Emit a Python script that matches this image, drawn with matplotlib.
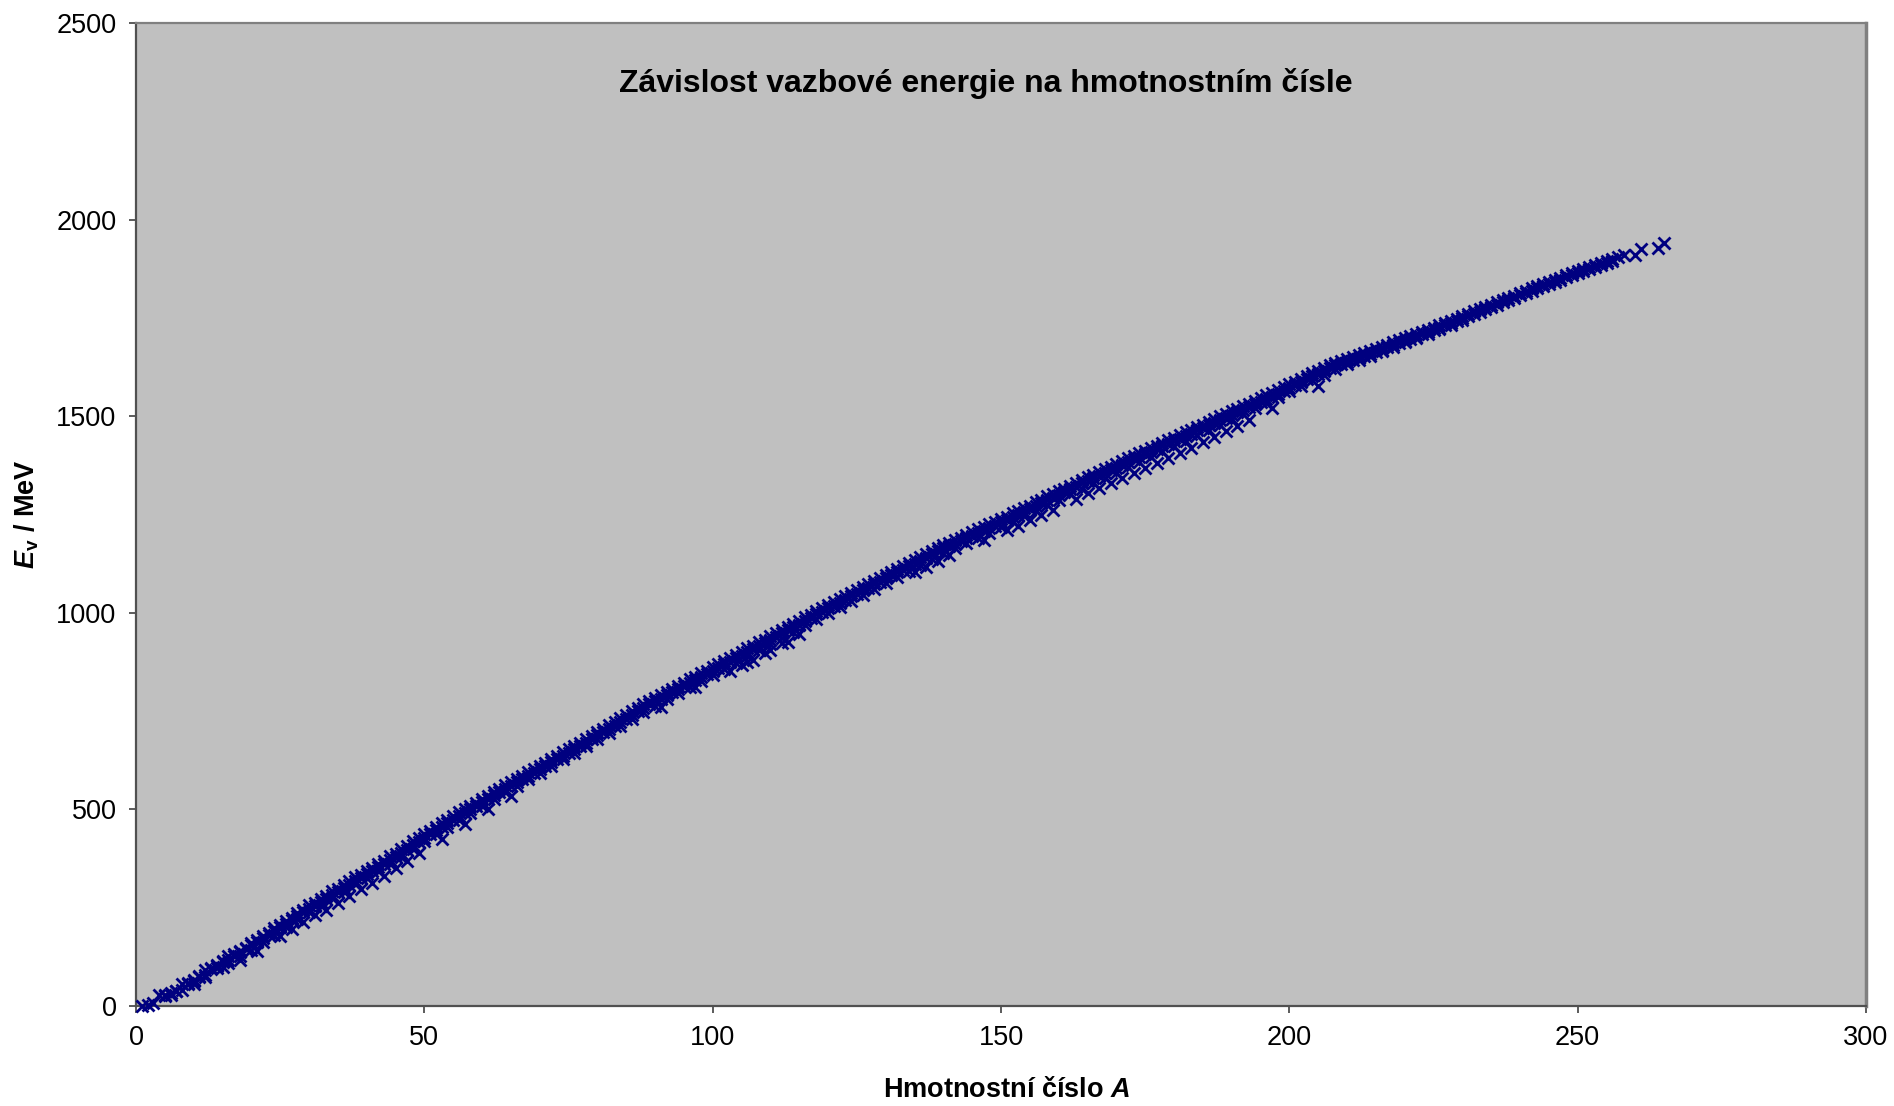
import matplotlib
matplotlib.use("Agg")
import matplotlib.pyplot as plt

# --- Fonts (Arial look-alike) ---
plt.rcParams['font.family'] = ['Liberation Sans', 'DejaVu Sans']
plt.rcParams['mathtext.fontset'] = 'custom'
plt.rcParams['mathtext.rm'] = 'Liberation Sans'
plt.rcParams['mathtext.it'] = 'Liberation Sans:italic'
plt.rcParams['mathtext.bf'] = 'Liberation Sans:bold'
plt.rcParams['mathtext.bfit'] = 'Liberation Sans:bold:italic'

# --- Data: binding energy E_v [MeV] vs mass number A ---
# most bound isobar for each A = 1..258
A_main = list(range(1, 259))
E_main = [
    0, 2.2, 8.5, 28.3, 27.4, 32.0, 39.2, 56.5, 58.2, 65.0,
    76.2, 92.2, 97.1, 105.3, 115.5, 127.6, 131.8, 139.8, 147.8, 160.6,
    167.4, 177.8, 186.6, 198.3, 205.6, 216.7, 225.0, 236.5, 245.0, 255.6,
    262.9, 271.8, 280.4, 291.8, 298.8, 308.7, 317.1, 327.3, 333.7, 343.8,
    351.6, 361.9, 369.8, 381.0, 387.8, 398.8, 407.1, 418.7, 426.8, 437.8,
    445.8, 456.3, 464.3, 474.0, 482.1, 492.3, 499.9, 509.9, 517.3, 526.8,
    534.7, 545.3, 552.1, 561.8, 569.2, 578.1, 585.2, 595.4, 601.9, 611.1,
    618.9, 628.7, 635.5, 645.7, 652.6, 662.1, 669.5, 679.0, 686.3, 696.9,
    704.4, 714.3, 721.7, 732.3, 739.3, 749.2, 757.9, 768.5, 775.5, 783.9,
    791.1, 799.7, 806.5, 814.7, 821.6, 830.8, 837.6, 846.2, 852.7, 861.9,
    868.7, 877.9, 884.2, 893.1, 899.9, 909.5, 915.3, 925.2, 931.7, 940.6,
    947.6, 957.0, 963.6, 972.6, 979.1, 988.7, 995.6, 1004.9, 1011.4, 1020.5,
    1026.7, 1035.5, 1041.5, 1050.7, 1057.3, 1066.4, 1072.7, 1080.7, 1087.7, 1096.9,
    1103.5, 1112.4, 1118.5, 1127.4, 1134.0, 1141.9, 1149.3, 1158.3, 1164.6, 1172.7,
    1177.9, 1185.1, 1191.1, 1199.1, 1204.8, 1212.4, 1217.3, 1225.4, 1230.3, 1239.3,
    1244.9, 1253.1, 1259.0, 1266.6, 1272.2, 1281.6, 1287.2, 1295.9, 1302.0, 1309.5,
    1314.9, 1323.5, 1329.6, 1338.0, 1344.3, 1351.6, 1358.0, 1365.8, 1371.4, 1378.1,
    1384.8, 1392.8, 1398.7, 1406.6, 1412.4, 1419.3, 1425.2, 1432.8, 1438.9, 1444.7,
    1452.2, 1459.3, 1465.5, 1473.6, 1478.7, 1486.0, 1491.9, 1499.4, 1505.0, 1512.8,
    1518.6, 1526.1, 1532.1, 1539.6, 1545.7, 1553.4, 1559.4, 1566.5, 1573.2, 1581.2,
    1587.4, 1595.2, 1601.2, 1608.7, 1615.1, 1622.3, 1629.1, 1636.4, 1640.4, 1645.6,
    1649.6, 1655.8, 1660.2, 1666.0, 1670.6, 1676.0, 1681.0, 1687.5, 1692.8, 1698.0,
    1703.4, 1708.2, 1713.8, 1720.3, 1725.2, 1731.6, 1736.7, 1743.1, 1748.3, 1755.1,
    1760.3, 1766.7, 1771.7, 1778.6, 1783.9, 1790.4, 1795.5, 1801.7, 1806.9, 1813.5,
    1818.7, 1825.0, 1830.0, 1836.1, 1841.0, 1847.4, 1852.3, 1858.0, 1863.0, 1869.0,
    1874.0, 1880.0, 1885.0, 1890.0, 1895.0, 1900.0, 1905.0, 1910.0,
]

# second isobar for A = 5..256
A_second = list(range(5, 257))
E_second = [
    26, 29, 37, 41, 56, 64,
    73, 80, 94, 102, 111, 118, 128, 137, 144, 154,
    163, 172, 181, 191, 200, 209, 219, 228, 238, 247,
    255, 264, 273, 283, 291, 300, 309, 318, 326, 335,
    343, 353, 361, 372, 379, 390, 398, 409, 418, 428,
    437, 447, 455, 465, 473, 483, 491, 501, 508, 518,
    526, 536, 543, 553, 560, 569, 577, 586, 593, 602,
    610, 620, 627, 637, 644, 653, 661, 670, 678, 688,
    696, 705, 713, 723, 731, 740, 749, 759, 767, 775,
    782, 791, 798, 806, 813, 822, 829, 837, 844, 853,
    860, 869, 876, 884, 891, 900, 907, 916, 923, 931,
    939, 948, 955, 963, 970, 979, 987, 996, 1003, 1011,
    1018, 1026, 1033, 1042, 1049, 1057, 1064, 1072, 1079, 1088,
    1095, 1103, 1110, 1118, 1125, 1133, 1140, 1149, 1156, 1164,
    1169, 1176, 1182, 1190, 1196, 1203, 1209, 1216, 1222, 1230,
    1236, 1244, 1250, 1257, 1263, 1272, 1278, 1286, 1293, 1300,
    1306, 1314, 1320, 1329, 1335, 1342, 1349, 1356, 1362, 1369,
    1376, 1383, 1390, 1397, 1403, 1410, 1416, 1423, 1430, 1436,
    1443, 1450, 1456, 1464, 1470, 1477, 1483, 1490, 1496, 1503,
    1510, 1517, 1523, 1530, 1537, 1544, 1550, 1557, 1564, 1572,
    1580, 1588, 1594, 1601, 1608, 1615, 1622, 1629, 1634, 1639,
    1643, 1649, 1654, 1659, 1664, 1669, 1675, 1681, 1687, 1692,
    1697, 1702, 1708, 1714, 1719, 1725, 1731, 1737, 1742, 1749,
    1754, 1760, 1766, 1773, 1778, 1784, 1790, 1796, 1801, 1808,
    1813, 1819, 1825, 1831, 1836, 1842, 1847, 1853, 1858, 1864,
    1869, 1875, 1880, 1885, 1890, 1895,
]

# third (less bound) isobar, even A = 10..230
A_third = list(range(10, 232, 2))
E_third = [
    56, 74, 96, 110, 128, 142, 162, 180, 200, 220,
    238, 254, 274, 290, 310, 326, 343, 362, 380, 400,
    420, 438, 456, 474, 491, 509, 526, 543, 560, 577,
    593, 610, 627, 644, 660, 678, 695, 713, 730, 748,
    764, 780, 795, 811, 827, 842, 858, 873, 889, 905,
    920, 936, 952, 968, 984, 1000, 1015, 1030, 1046, 1060,
    1076, 1092, 1106, 1121, 1138, 1152, 1164, 1178, 1191, 1204,
    1218, 1232, 1245, 1260, 1274, 1288, 1302, 1316, 1330, 1344,
    1356, 1370, 1384, 1397, 1411, 1423, 1437, 1452, 1465, 1478,
    1492, 1506, 1520, 1534, 1548, 1563, 1578, 1592, 1606, 1620,
    1632, 1643, 1654, 1665, 1677, 1688, 1699, 1710, 1722, 1733,
    1745,
]

# scattered points lying below the main band
A_low = [15, 18, 21, 25, 27, 29, 31, 33, 35, 37, 39, 41, 43, 45, 47, 49, 53, 57, 61, 65,
         91, 97, 103, 105, 106, 107, 109, 110, 112, 113, 115, 135, 137, 139, 141, 147,
         151, 153, 155, 157, 159, 163, 165, 167, 169, 171, 173, 175, 177, 179, 181, 183,
         185, 187, 189, 191, 193, 197, 205]
E_low = [98, 118, 140, 178, 195, 214, 231, 245, 262, 280, 297, 313, 331, 350, 368, 388, 425, 462, 500, 535,
         760, 812, 852, 866, 874, 880, 898, 906, 922, 925, 945, 1104, 1116, 1132, 1146, 1186,
         1210, 1222, 1236, 1250, 1262, 1290, 1305, 1318, 1330, 1343, 1356, 1368, 1380, 1393, 1407, 1420,
         1434, 1448, 1462, 1476, 1490, 1520, 1578]

# heaviest nuclei at the end of the band
A_tail = [260, 261, 264, 265]
E_tail = [1910, 1926, 1928, 1941]

A_all = A_main + A_second + A_third + A_low + A_tail
E_all = E_main + E_second + E_third + E_low + E_tail

# --- Figure ---
fig = plt.figure(figsize=(18.94, 11.06), dpi=100)
ax = fig.add_axes([136 / 1894, 1 - 1006 / 1106, 1730 / 1894, 983 / 1106])
ax.set_facecolor('#C0C0C0')

ax.plot(A_all, E_all, linestyle='none', marker='x', color='#000080',
        markersize=8.5, markeredgewidth=2.0, clip_on=False, zorder=3)

ax.set_xlim(0, 300)
ax.set_ylim(0, 2500)
ax.set_xticks(range(0, 301, 50))
ax.set_yticks(range(0, 2501, 500))

ax.tick_params(direction='out', length=5, width=1.2, color='#404040',
               labelsize=19.5, pad=9)
for side in ['left', 'bottom']:
    ax.spines[side].set_color('#505050')
    ax.spines[side].set_linewidth(1.6)
ax.spines['top'].set_color('#808080')
ax.spines['top'].set_linewidth(1.6)
ax.spines['right'].set_color('#808080')
ax.spines['right'].set_linewidth(2.5)

ax.text(0.491, 0.938, 'Závislost vazbové energie na hmotnostním čísle',
        transform=ax.transAxes, ha='center', va='center',
        fontsize=23, fontweight='bold')

ax.set_xlabel(r'Hmotnostní číslo $\mathbfit{A}$', fontsize=19.5, fontweight='bold')
ax.set_ylabel(r'$\mathbfit{E}_{\mathbf{v}}$ / MeV', fontsize=19.5, fontweight='bold')
ax.xaxis.label.set_verticalalignment('center')
ax.yaxis.label.set_verticalalignment('center')
ax.xaxis.set_label_coords(0.503, -0.0855)
ax.yaxis.set_label_coords(-0.063, 0.5)

fig.savefig('out.png', dpi=100)
